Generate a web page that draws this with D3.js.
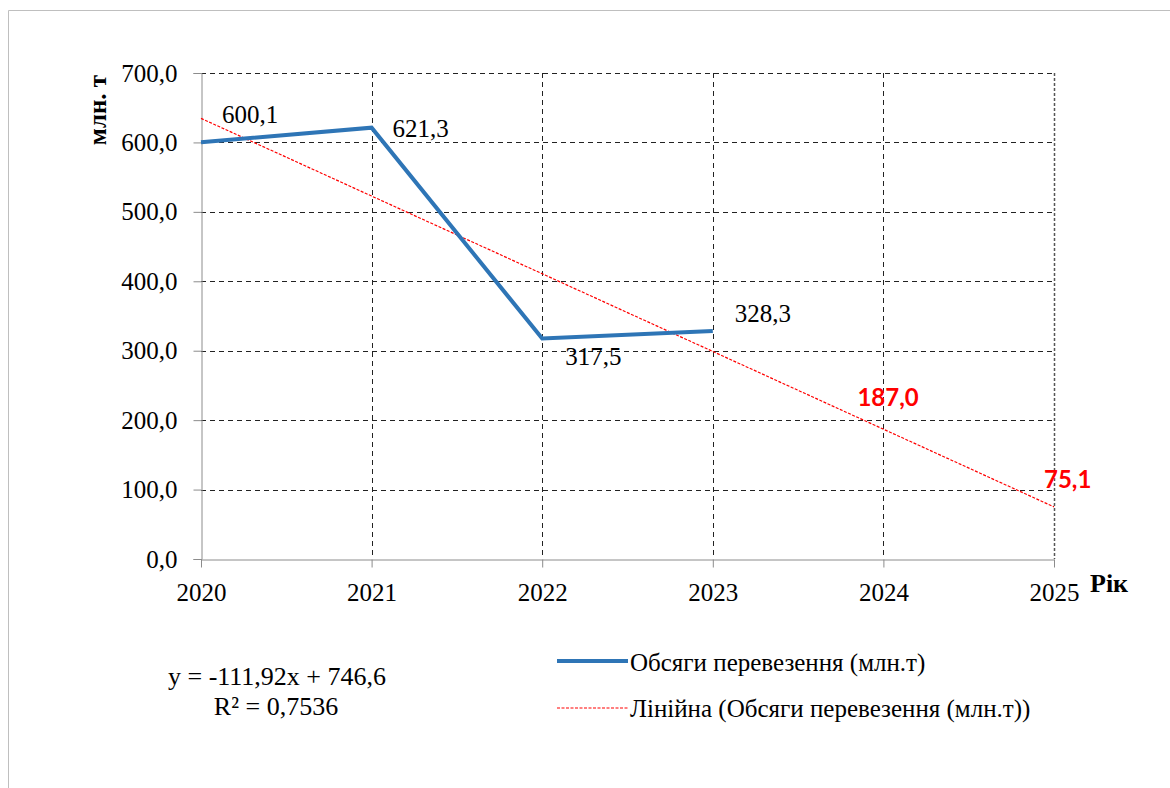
<!DOCTYPE html>
<html>
<head>
<meta charset="utf-8">
<script src="https://cdn.jsdelivr.net/npm/d3@7/dist/d3.min.js"></script>
<style>
  html, body { margin: 0; padding: 0; background: #fff; }
  svg { display: block; }
  .serif { font-family: "Liberation Serif", "Times New Roman", Tinos, "DejaVu Serif", serif; }
</style>
</head>
<body>
<svg id="chart" width="1170" height="788"></svg>
<script>
// Обсяги перевезення, млн. т
const years = [2020, 2021, 2022, 2023, 2024, 2025];
const volumes = [600.1, 621.3, 317.5, 328.3];
const valueLabels = ["600,1", "621,3", "317,5", "328,3"];
// Лінійний тренд y = -111,92x + 746,6 (x = 1..6)
const trendSlope = -111.92;
const trendIntercept = 746.6;
const forecastLabels = ["187,0", "75,1"];
const yTicks = [0, 100, 200, 300, 400, 500, 600, 700];

const svg = d3.select("#chart");

// outer frame (top and left edges)
svg.append("path")
  .attr("d", "M8.5,788 L8.5,10.5 L1170,10.5")
  .attr("fill", "none").attr("stroke", "#bfbfbf").attr("stroke-width", 1);

const x = d3.scalePoint().domain(years).range([201, 1054]);
const y = d3.scaleLinear().domain([0, 700]).range([559, 73]);

const fmt = v => d3.format(".1f")(v).replace(".", ",");

// horizontal grid
svg.append("g").selectAll("line").data(yTicks.filter(v => v > 0)).join("line")
  .attr("x1", x(2020)).attr("x2", x(2025))
  .attr("y1", d => Math.round(y(d)) + 0.5).attr("y2", d => Math.round(y(d)) + 0.5)
  .attr("stroke", "#222").attr("stroke-width", 1).attr("stroke-dasharray", "5,4");

// vertical grid
svg.append("g").selectAll("line").data(years.slice(1)).join("line")
  .attr("x1", d => Math.round(x(d)) + 0.5).attr("x2", d => Math.round(x(d)) + 0.5)
  .attr("y1", y(700)).attr("y2", y(0))
  .attr("stroke", d => d === 2025 ? "#555" : "#222")
  .attr("stroke-width", d => d === 2025 ? 1.5 : 1)
  .attr("stroke-dasharray", d => d === 2025 ? "3,2" : "5,4");

// y axis
const yAxis = svg.append("g")
  .attr("transform", `translate(${Math.round(x(2020)) + 0.5},0)`)
  .call(d3.axisLeft(y).tickValues(yTicks).tickFormat(fmt).tickSize(8).tickPadding(16));
yAxis.attr("font-family", null).attr("font-size", null);
yAxis.select(".domain").attr("stroke", "#8c8c8c");
yAxis.selectAll(".tick line").attr("stroke", "#8c8c8c");
yAxis.selectAll(".tick text")
  .attr("class", "serif").style("font-size", "25px").attr("fill", "#000");

// x axis
const xAxis = svg.append("g")
  .attr("transform", `translate(0,${Math.round(y(0)) + 0.5})`)
  .call(d3.axisBottom(x).tickValues(years).tickFormat(d3.format("d")).tickSize(8).tickSizeOuter(0));
xAxis.attr("font-family", null).attr("font-size", null);
xAxis.select(".domain").attr("stroke", "#8c8c8c");
xAxis.selectAll(".tick line").attr("stroke", "#8c8c8c");
xAxis.selectAll(".tick text")
  .attr("class", "serif").style("font-size", "25px").attr("fill", "#000")
  .attr("y", 41).attr("dy", 0);

// axis titles
svg.append("text")
  .attr("class", "serif")
  .attr("transform", "translate(106,110) rotate(-90)")
  .attr("text-anchor", "middle")
  .style("font-size", "25px").style("font-weight", "bold")
  .text("млн. т");
svg.append("text")
  .attr("class", "serif")
  .attr("x", 1090).attr("y", 592)
  .style("font-size", "26px").style("font-weight", "bold")
  .text("Рік");

// trend line
const trendYears = years.map((yr, i) => ({ yr, v: trendSlope * (i + 1) + trendIntercept }));
svg.append("path")
  .datum(trendYears)
  .attr("fill", "none").attr("stroke", "#ff0000").attr("stroke-width", 1.2)
  .attr("stroke-dasharray", "3,1.5")
  .attr("d", d3.line().x(d => x(d.yr)).y(d => y(d.v)));

// actual volumes
const actual = volumes.map((v, i) => ({ yr: years[i], v }));
svg.append("path")
  .datum(actual)
  .attr("fill", "none").attr("stroke", "#2e75b6").attr("stroke-width", 4)
  .attr("stroke-linejoin", "miter")
  .attr("d", d3.line().x(d => x(d.yr)).y(d => y(d.v)));

// data labels
const labelOffsets = [[21, -19], [21, 9], [23, 26], [22, -9]];
svg.append("g").selectAll("text").data(actual).join("text")
  .attr("class", "serif")
  .attr("x", (d, i) => x(d.yr) + labelOffsets[i][0])
  .attr("y", (d, i) => y(d.v) + labelOffsets[i][1])
  .style("font-size", "25px").attr("fill", "#000")
  .text((d, i) => valueLabels[i]);

// forecast labels
const forecast = trendYears.slice(4);
const forecastOffsets = [[-26, -23], [-10, -19]];
svg.append("g").selectAll("text").data(forecast).join("text")
  .attr("x", (d, i) => x(d.yr) + forecastOffsets[i][0])
  .attr("y", (d, i) => y(d.v) + forecastOffsets[i][1])
  .style("font-family", "Lato, 'Open Sans', sans-serif").style("font-size", "24px")
  .style("font-weight", "bold").attr("fill", "#ff0000")
  .text((d, i) => forecastLabels[i]);

// trend equation
svg.append("text")
  .attr("class", "serif")
  .attr("x", 277).attr("y", 685).attr("text-anchor", "middle")
  .style("font-size", "26px")
  .text("y = -111,92x + 746,6");
svg.append("text")
  .attr("class", "serif")
  .attr("x", 276).attr("y", 715).attr("text-anchor", "middle")
  .style("font-size", "26px")
  .text("R² = 0,7536");

// legend
const legend = svg.append("g");
legend.append("line")
  .attr("x1", 557).attr("x2", 628).attr("y1", 661).attr("y2", 661)
  .attr("stroke", "#2e75b6").attr("stroke-width", 4);
legend.append("text")
  .attr("class", "serif")
  .attr("x", 630).attr("y", 671)
  .style("font-size", "25px")
  .text("Обсяги перевезення (млн.т)");
legend.append("line")
  .attr("x1", 557).attr("x2", 628).attr("y1", 708).attr("y2", 708)
  .attr("stroke", "#ff0000").attr("stroke-width", 1.2).attr("stroke-dasharray", "3,1.5");
legend.append("text")
  .attr("class", "serif")
  .attr("x", 630).attr("y", 717)
  .style("font-size", "25px")
  .text("Лінійна (Обсяги перевезення (млн.т))");
</script>
</body>
</html>
